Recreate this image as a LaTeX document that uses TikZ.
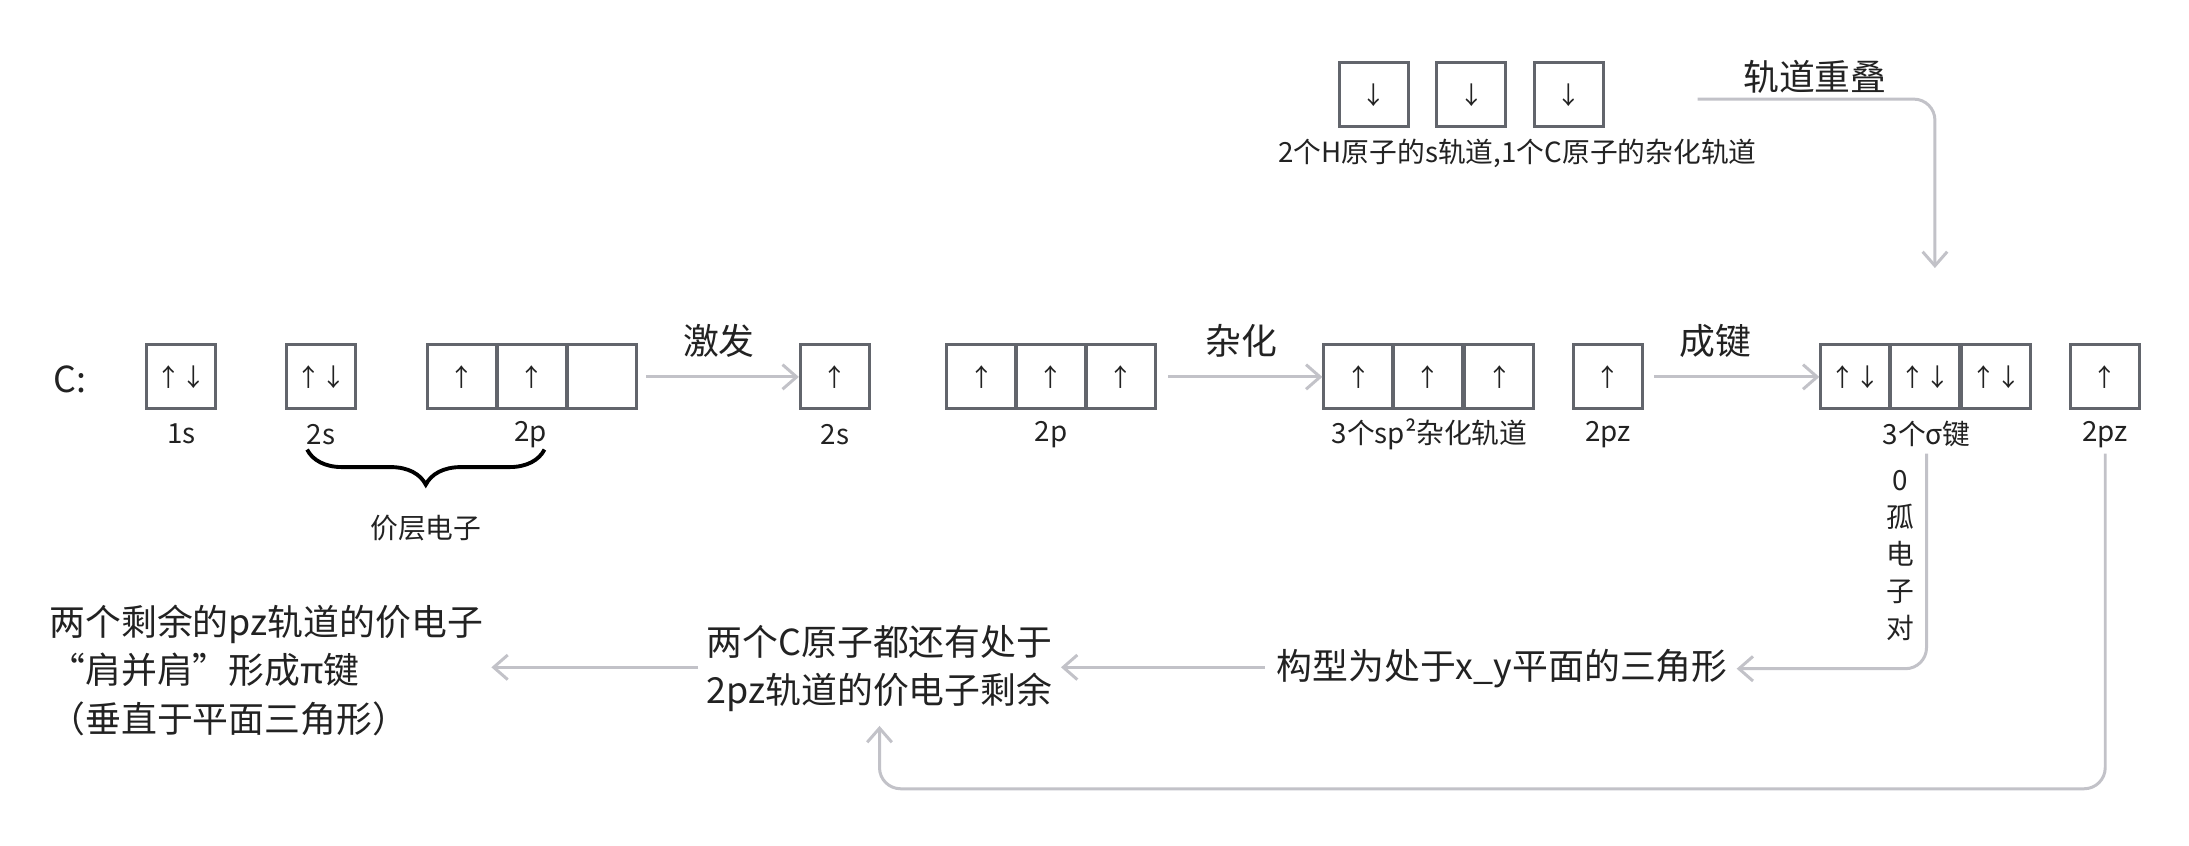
\documentclass[tikz,border=0pt]{standalone}
\usepackage{fontspec}
\setmainfont{Noto Sans CJK SC}
\usetikzlibrary{arrows.meta,decorations.pathreplacing}
\definecolor{ln}{HTML}{C2C2C8}
\definecolor{bx}{HTML}{62656C}
\definecolor{tx}{HTML}{222222}
\begin{document}
\begin{tikzpicture}[x=0.01396cm,y=-0.01396cm,
  box/.style={draw=bx,line width=0.85pt,minimum width=0.69cm,minimum height=0.64cm,inner sep=0pt,font=\fontsize{7}{8}\selectfont,text=tx},
  lab/.style={font=\fontsize{7.9}{9}\selectfont,text=tx,inner sep=0pt},
  big/.style={font=\fontsize{10.2}{12}\selectfont,text=tx,inner sep=0pt},
  con/.style={draw=ln,line width=0.85pt,rounded corners=6pt,-{Straight Barb[length=4pt,width=7pt]}}]
\useasboundingbox (0,0) rectangle (1568,606);
\node[big] (C) at (50,272) {C:};
% row 1
\node[box] (b1s) at (130,270) {↑↓};
\node[box] (b2s) at (230,270) {↑↓};
\node[box] (p1) at (331,270) {↑};
\node[box] (p2) at (381,270) {↑};
\node[box] (p3) at (431,270) {};
\node[box] (e2s) at (598,270) {↑};
\node[box] (q1) at (703,270) {↑};
\node[box] (q2) at (753,270) {↑};
\node[box] (q3) at (803,270) {↑};
\node[box] (s1) at (973,270) {↑};
\node[box] (s2) at (1023,270) {↑};
\node[box] (s3) at (1074,270) {↑};
\node[box] (z1) at (1152,270) {↑};
\node[box] (g1) at (1329,270) {↑↓};
\node[box] (g2) at (1379,270) {↑↓};
\node[box] (g3) at (1430,270) {↑↓};
\node[box] (z2) at (1508,270) {↑};
% labels
\node[lab] (l1) at (130,311) {1s};
\node[lab] (l2) at (230,311) {2s};
\node[lab] (l3) at (380,311) {2p};
\node[lab] (l4) at (598,311) {2s};
\node[lab] (l5) at (753,311) {2p};
\node[lab] (l6) at (1024,311) {3个sp²杂化轨道};
\node[lab] (l7) at (1152,311) {2pz};
\node[lab] (l8) at (1380,311) {3个σ键};
\node[lab] (l9) at (1508,311) {2pz};
\draw[line width=1.1pt,decorate,decoration={brace,mirror,amplitude=10pt}] (220,322) -- (390,322);
\node[lab] (vl) at (305,378) {价层电子};
% arrows
\draw[con] (p3.east)++(6,0) coordinate (a1) -- (e2s.west);
\node[big] (t1) at (515,244) {激发};
\draw[con] (q3.east)++(8,0) coordinate (a2) -- (s1.west);
\node[big] (t2) at (889,244) {杂化};
\draw[con] (z1.east)++(7,0) coordinate (a3) -- (g1.west);
\node[big] (t3) at (1229,244) {成键};
% top
\node[box] (h1) at (984,68) {↓};
\node[box] (h2) at (1054,68) {↓};
\node[box] (h3) at (1124,68) {↓};
\node[lab] (hl) at (1087,110) {2个H原子的s轨道,1个C原子的杂化轨道};
\node[big] (ov) at (1300,55) {轨道重叠};
\coordinate (o1) at (1216,71);
\coordinate (o2) at (1386,192);
\draw[con] (o1) -| (o2);
% lone pair
\node[lab,align=center,font=\fontsize{7.9}{10.5}\selectfont] (lp) at (1361,398) {0\\孤\\电\\子\\对};
\node[big] (tri) at (1076,479) {构型为处于x\_y平面的三角形};
\coordinate (c1) at (1380,325);
\coordinate (c1e) at (1244,479);
\draw[con] (c1) |- (c1e);
\node[big,align=center,font=\fontsize{10.2}{13.5}\selectfont] (mid) at (630,479) {两个C原子都还有处于\\2pz轨道的价电子剩余};
\coordinate (c2) at (906,478);
\coordinate (c2e) at (760,478);
\draw[con] (c2) -- (c2e);
\node[big,align=left,anchor=west,font=\fontsize{10.2}{13.8}\selectfont] (left) at (35,480) {两个剩余的pz轨道的价电子\\“肩并肩”形成π键\\（垂直于平面三角形）};
\coordinate (c3) at (500,478);
\coordinate (c3e) at (352,478);
\draw[con] (c3) -- (c3e);
\coordinate (d1) at (1508,325);
\coordinate (d2) at (630,520);
\draw[con] (d1) -- (1508,565) -- (630,565) -- (d2);
\end{tikzpicture}
\end{document}
